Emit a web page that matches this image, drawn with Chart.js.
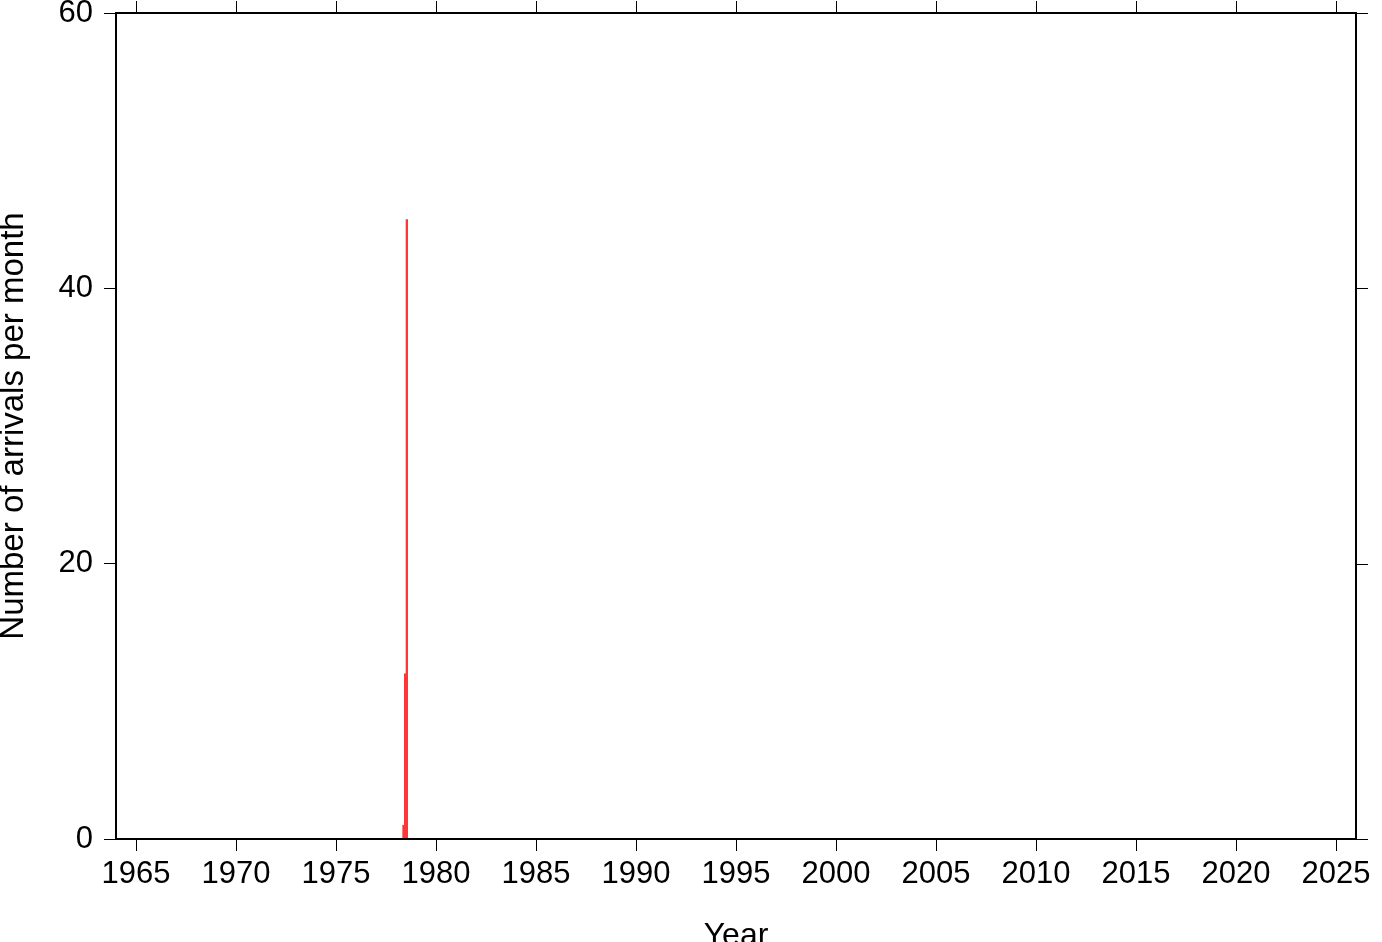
<!DOCTYPE html>
<html>
<head>
<meta charset="utf-8">
<script src="https://cdn.jsdelivr.net/npm/chart.js@4.4.1/dist/chart.umd.min.js"></script>
<style>
  html, body { margin: 0; padding: 0; background: #fff; }
  canvas { display: block; }
</style>
</head>
<body>
<canvas id="arrivalsChart" width="1382" height="942"></canvas>
<script>
// monthly arrival counts (only non-empty months)
var arrivalYears = [1978, 1978, 1978];
var arrivalMonths = [5, 6, 7];
var arrivalCounts = [1, 12, 45];

var yearTicks = [1965, 1970, 1975, 1980, 1985, 1990, 1995, 2000, 2005, 2010, 2015, 2020, 2025];
var countTicks = [0, 20, 40, 60];

var fontFamily = "'Liberation Sans', Arial, Helvetica, sans-serif";

var barData = [];
for (var i = 0; i < arrivalCounts.length; i++) {
    // bar centred in its month
    barData.push({ x: arrivalYears[i] + (arrivalMonths[i] - 0.5) / 12, y: arrivalCounts[i] });
}

// frame + mirrored ticks on top/right
var framePlugin = {
    id: 'frame',
    afterDraw: function(chart) {
        var ctx = chart.ctx;
        var area = chart.chartArea;
        var xs = chart.scales.x, ys = chart.scales.y;
        ctx.save();
        ctx.strokeStyle = '#000';
        ctx.lineWidth = 1;
        ctx.beginPath();
        xs.ticks.forEach(function(t) {
            var px = Math.round(xs.getPixelForValue(t.value)) + 0.5;
            ctx.moveTo(px, area.top);
            ctx.lineTo(px, area.top - 12);
        });
        ys.ticks.forEach(function(t) {
            var py = Math.round(ys.getPixelForValue(t.value)) + 0.5;
            ctx.moveTo(area.right, py);
            ctx.lineTo(area.right + 12, py);
        });
        ctx.stroke();
        ctx.lineWidth = 2;
        ctx.strokeRect(area.left, area.top, area.right - area.left, area.bottom - area.top);
        ctx.restore();
    }
};

new Chart(document.getElementById('arrivalsChart'), {
    type: 'bar',
    data: {
        datasets: [{
            label: 'Arrivals',
            data: barData,
            backgroundColor: 'rgb(255, 55, 55)',
            borderWidth: 0,
            categoryPercentage: 1.0,
            barPercentage: 1.0
        }]
    },
    options: {
        responsive: false,
        animation: false,
        devicePixelRatio: 1,
        layout: { padding: { top: 13, right: 26, left: 0, bottom: 0 } },
        plugins: { legend: { display: false }, tooltip: { enabled: false } },
        scales: {
            x: {
                type: 'linear',
                min: 1964,
                max: 2026,
                offset: false,
                grid: { offset: false, drawOnChartArea: false, drawTicks: true, tickLength: 12, color: '#000', tickColor: '#000' },
                border: { display: false },
                afterBuildTicks: function(scale) {
                    scale.ticks = yearTicks.map(function(v) { return { value: v }; });
                },
                afterFit: function(scale) {
                    scale.height = 103;
                    scale.paddingLeft = 0;
                    scale.paddingRight = 0;
                },
                ticks: {
                    color: '#000',
                    padding: 5,
                    maxRotation: 0,
                    autoSkip: false,
                    font: { family: fontFamily, size: 31 },
                    callback: function(value) { return String(value); }
                },
                title: {
                    display: true,
                    text: 'Year',
                    color: '#000',
                    padding: 0,
                    font: { family: fontFamily, size: 32, lineHeight: 0.35 }
                }
            },
            y: {
                type: 'linear',
                min: 0,
                max: 60,
                grid: { drawOnChartArea: false, drawTicks: true, tickLength: 12, color: '#000', tickColor: '#000' },
                border: { display: false },
                afterBuildTicks: function(scale) {
                    scale.ticks = countTicks.map(function(v) { return { value: v }; });
                },
                afterFit: function(scale) {
                    scale.width = 116;
                    scale.paddingTop = 0;
                    scale.paddingBottom = 0;
                },
                ticks: {
                    color: '#000',
                    padding: 11,
                    font: { family: fontFamily, size: 31 }
                },
                title: {
                    display: true,
                    text: 'Number of arrivals per month',
                    color: '#000',
                    padding: 0,
                    font: { family: fontFamily, size: 33, lineHeight: 0.85 }
                }
            }
        }
    },
    plugins: [framePlugin]
});
</script>
</body>
</html>
